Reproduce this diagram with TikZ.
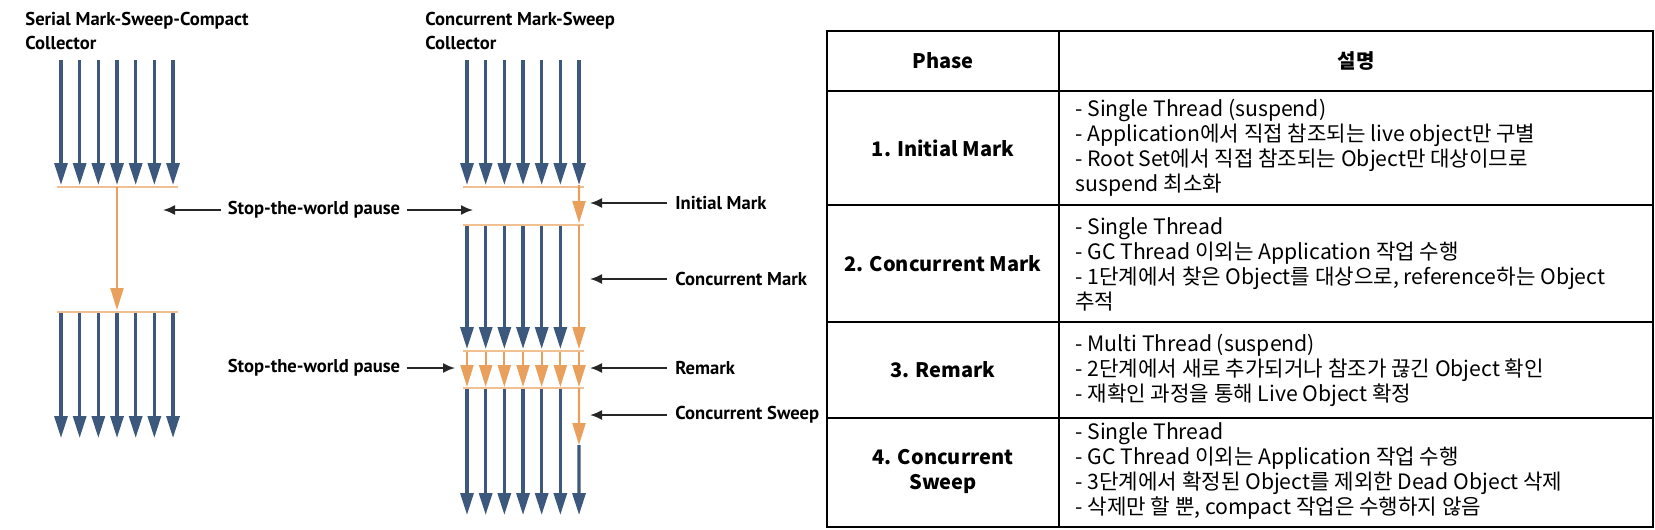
\documentclass[tikz,border=0pt]{standalone}
\usepackage{fontspec}
\setmainfont{Noto Sans CJK KR}
\newfontfamily\labelfont{PT Sans}
\usepackage{tikz}
\usetikzlibrary{positioning}
\usetikzlibrary{arrows.meta}
\definecolor{threadblue}{RGB}{60,88,125}
\definecolor{gcorange}{RGB}{232,160,92}
\definecolor{gclight}{RGB}{240,192,146}
\tikzstyle{thread} = [draw,threadblue,line width=1.6pt,-{Triangle[width=6.5pt,length=11pt]}]
\tikzstyle{gcthread} = [draw,gcorange,line width=1.1pt,-{Triangle[width=6.5pt,length=11pt]}]
\tikzstyle{gcline} = [draw,gclight,line width=1pt]
\tikzstyle{pointer} = [draw,black!85,line width=0.9pt,-{Latex[length=6pt,width=5pt]}]
\tikzstyle{phaselabel} = [font=\labelfont\bfseries\fontsize{9.3}{12}\selectfont,inner sep=0pt]
\tikzstyle{title} = [phaselabel,align=left,anchor=north west]
\tikzstyle{cell} = [font=\fontsize{10.6}{12.5}\selectfont,align=left,anchor=west,inner sep=0pt]
\tikzstyle{headcell} = [font=\bfseries\fontsize{10}{12.5}\selectfont,align=center,inner sep=0pt]
\tikzstyle{grid} = [draw,line width=1.1pt]

\begin{document}
\begin{tikzpicture}[x=0.5pt,y=-0.5pt]
\useasboundingbox (0,0) rectangle (1655,530);

    % Serial collector: the threads, then the pause
    \node[title] (serial) at (25,12) {Serial Mark-Sweep-Compact\\Collector};
    \foreach \i in {1,...,7} {
        \coordinate (SA\i) at (61+18.67*\i-18.67,60);
        \coordinate (SB\i) at (61+18.67*\i-18.67,185);
        \coordinate (SC\i) at (61+18.67*\i-18.67,312);
        \coordinate (SD\i) at (61+18.67*\i-18.67,438);
        \path[thread] (SA\i) -- (SB\i);
        \path[thread] (SC\i) -- (SD\i);
    }
    \coordinate (SL1) at (57,187); \coordinate (SR1) at (178,187);
    \coordinate (SL2) at (57,312); \coordinate (SR2) at (178,312);
    \coordinate (SG1) at (117,187); \coordinate (SG2) at (117,310);
    \path[gcline] (SL1) -- (SR1);
    \path[gcline] (SL2) -- (SR2);
    \path[gcthread] (SG1) -- (SG2);

    % Concurrent collector
    \node[title] (cms) at (425,12) {Concurrent Mark-Sweep\\Collector};
    \foreach \i in {1,...,7} {
        \coordinate (CA\i) at (467+18.67*\i-18.67,60);
        \coordinate (CB\i) at (467+18.67*\i-18.67,185);
        \coordinate (CC\i) at (467+18.67*\i-18.67,225);
        \coordinate (CD\i) at (467+18.67*\i-18.67,349);
        \coordinate (CE\i) at (467+18.67*\i-18.67,351);
        \coordinate (CF\i) at (467+18.67*\i-18.67,387);
        \coordinate (CG\i) at (467+18.67*\i-18.67,388);
        \coordinate (CH\i) at (467+18.67*\i-18.67,515);
        \path[thread] (CA\i) -- (CB\i);
        \path[gcthread] (CE\i) -- (CF\i);
    }
    \foreach \i in {1,...,6} {
        \path[thread] (CC\i) -- (CD\i);
        \path[thread] (CG\i) -- (CH\i);
    }
    \foreach \y/\name in {187/1, 225/2, 351/3, 388/4} {
        \coordinate (CL\name) at (463,\y); \coordinate (CR\name) at (584,\y);
        \path[gcline] (CL\name) -- (CR\name);
    }
    \coordinate (CI) at (579,223);
    \coordinate (CS) at (579,445);
    \path[gcthread] (CB7) -- (CI);
    \path[gcthread] (CC7) -- (CD7);
    \path[gcthread] (CG7) -- (CS);
    \path[thread] (CS) -- (CH7);

    % Labels and pointers
    \node[phaselabel] (stwA) at (314,210) {Stop-the-world pause};
    \node[phaselabel] (stwB) at (314,368) {Stop-the-world pause};
    \coordinate (stwAL) at (163,210); \coordinate (stwAR) at (473,210);
    \coordinate (stwBR) at (455,368);
    \path[pointer] ([xshift=-3pt]stwA.west) -- (stwAL);
    \path[pointer] ([xshift=3pt]stwA.east) -- (stwAR);
    \path[pointer] ([xshift=3pt]stwB.east) -- (stwBR);
    \foreach \y/\name/\label in {203/im/Initial Mark, 279/cm/Concurrent Mark, 368/rm/Remark, 415/cs/Concurrent Sweep} {
        \node[phaselabel,anchor=west] (\name) at (675,\y) {\label};
        \coordinate (\name p) at (590,\y);
        \path[pointer] ([xshift=-4pt]\name.west) -- (\name p);
    }

    % Table of phases
    \path[grid] (827,31) rectangle (1653,527);
    \path[grid] (1059,31) -- (1059,527);
    \foreach \y in {91,205,322,418}
        \path[grid] (827,\y) -- (1653,\y);
    \node[headcell] (hphase) at (943,61) {Phase};
    \node[headcell] (hdesc) at (1356,61) {설명};
    \node[headcell] (p1) at (943,148) {1. Initial Mark};
    \node[headcell] (p2) at (943,264) {2. Concurrent Mark};
    \node[headcell] (p3) at (943,370) {3. Remark};
    \node[headcell] (p4) at (943,471) {4. Concurrent\\Sweep};
    \node[cell] (d1) at (1075,148) {- Single Thread (suspend)\\- Application에서 직접 참조되는 live object만 구별\\- Root Set에서 직접 참조되는 Object만 대상이므로\\suspend 최소화};
    \node[cell] (d2) at (1075,264) {- Single Thread\\- GC Thread 이외는 Application 작업 수행\\- 1단계에서 찾은 Object를 대상으로, reference하는 Object\\추적};
    \node[cell] (d3) at (1075,370) {- Multi Thread (suspend)\\- 2단계에서 새로 추가되거나 참조가 끊긴 Object 확인\\- 재확인 과정을 통해 Live Object 확정};
    \node[cell] (d4) at (1075,471) {- Single Thread\\- GC Thread 이외는 Application 작업 수행\\- 3단계에서 확정된 Object를 제외한 Dead Object 삭제\\- 삭제만 할 뿐, compact 작업은 수행하지 않음};

\end{tikzpicture}
\end{document}
